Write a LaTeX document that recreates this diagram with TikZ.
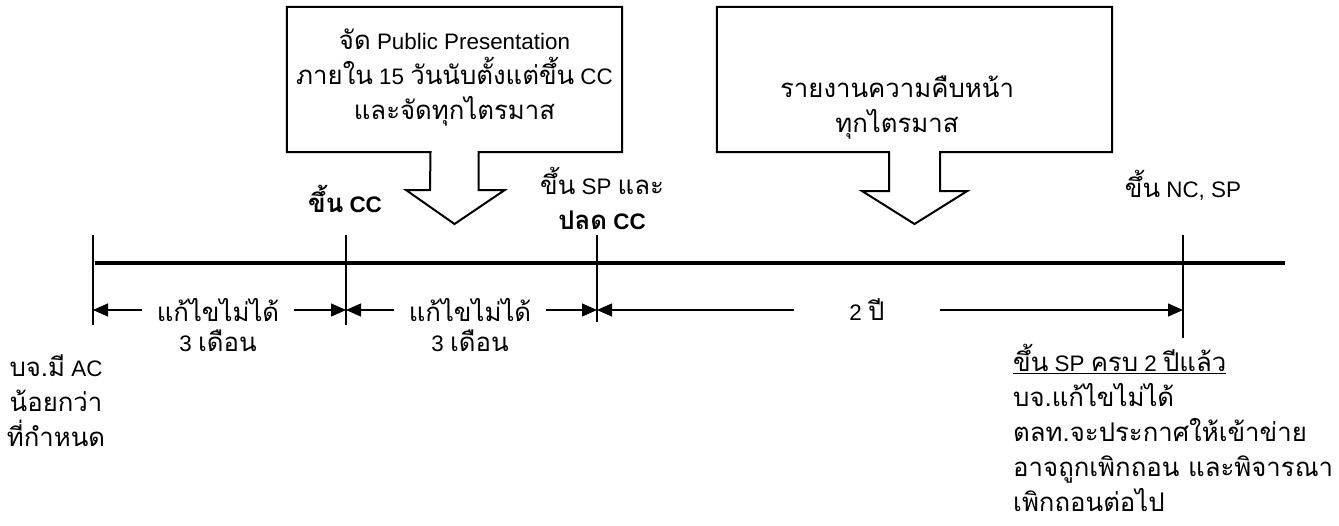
\documentclass[tikz,border=0pt]{standalone}
\usepackage{fontspec}
\setmainfont{Liberation Sans}
\newfontfamily\thaifont[Script=Thai,Scale=1.15]{Loma}
\newcommand\thai[1]{{\thaifont #1}}
\usepackage{tikz}
\usetikzlibrary{positioning, arrows.meta}
\tikzset{callout/.style={draw,line width=2pt,line join=miter},
         tick/.style={line width=1.8pt},
         span/.style={line width=1.3pt,-{Triangle[length=15pt,width=13pt]}},
         lbl/.style={inner sep=0pt,align=center,font=\fontsize{22.4}{35}\selectfont},
         box/.style={minimum width=335pt,minimum height=145pt,inner sep=0pt},
        }

\begin{document}
\begin{tikzpicture}[x=1pt,y=-1pt]
        \useasboundingbox (0,0) rectangle (1339,525);
        % boxes with block arrows
        \node[box](pp)at(454.5,79.5){};
        \node[box,minimum width=395pt](rp)at(914.5,79.5){};
        \draw[callout](pp.north west)--(pp.north east)--(pp.south east)--([xshift=24pt]pp.south)--++(0,38)--++(26,0)
            --(454.5,224)--(406,190)--++(24,0)--([xshift=-24pt]pp.south)--(pp.south west)--cycle;
        \draw[callout](rp.north west)--(rp.north east)--(rp.south east)--([xshift=25.5pt]rp.south)--++(0,39)--++(27,0)
            --(914.5,224)--(862,191)--++(27,0)--([xshift=-25.5pt]rp.south)--(rp.south west)--cycle;
        \node[lbl](pptext)at(454.5,78){\thai{จัด} Public Presentation\\ \thai{ภายใน} 15 \thai{วันนับตั้งแต่ขึ้น} CC\\ \thai{และจัดทุกไตรมาส}};
        \node[lbl](rptext)at(897,108){\thai{รายงานความคืบหน้า}\\ \thai{ทุกไตรมาส}};
        % time line
        \coordinate(start)at(95,263);
        \coordinate(end)at(1285,263);
        \draw[line width=4.5pt](start)--(end);
        \coordinate(t0)at(93,263);
        \coordinate(t1)at(346,263);
        \coordinate(t2)at(597,263);
        \coordinate(t3)at(1183,263);
        \draw[tick](t0)++(0,-28)--++(0,90);
        \draw[tick](t1)++(0,-28)--++(0,90);
        \draw[tick](t2)++(0,-28)--++(0,87);
        \draw[tick](t3)++(0,-28)--++(0,103);
        % labels above the line
        \node[lbl](cc)at(345,199){\bfseries\thai{ขึ้น} CC};
        \node[lbl](sp)at(602,198){\thai{ขึ้น} SP \thai{และ}\\ \bfseries\thai{ปลด} CC};
        \node[lbl](nc)at(1183,185){\thai{ขึ้น} NC, SP};
        % spans
        \node[lbl,inner xsep=15pt](g1)at(218,310){\thai{แก้ไขไม่ได้}};
        \node[lbl,below=31pt of g1.center,anchor=center](m1){3 \thai{เดือน}};
        \node[lbl,inner xsep=15pt](g2)at(470,310){\thai{แก้ไขไม่ได้}};
        \node[lbl,below=31pt of g2.center,anchor=center](m2){3 \thai{เดือน}};
        \node[lbl,inner xsep=55pt](g3)at(867,310){2 \thai{ปี}};
        \draw[span](g1.west)--(g1.west-|t0);
        \draw[span](g1.east)--(g1.east-|t1);
        \draw[span](g2.west)--(g2.west-|t1);
        \draw[span](g2.east)--(g2.east-|t2);
        \draw[span](g3.west)--(g3.west-|t2);
        \draw[span](g3.east)--(g3.east-|t3);
        % notes below
        \node[lbl](ac)at(56,401){\thai{บจ.มี} AC\\ \thai{น้อยกว่า}\\ \thai{ที่กำหนด}};
        \node[lbl,align=left,anchor=north west](nt)at(1013,344){\underline{\thai{ขึ้น} SP \thai{ครบ} 2 \thai{ปีแล้ว}}\\ \thai{บจ.แก้ไขไม่ได้}\\ \thai{ตลท.จะประกาศให้เข้าข่าย}\\ \thai{อาจถูกเพิกถอน และพิจารณา}\\ \thai{เพิกถอนต่อไป}};
    \end{tikzpicture}
\end{document}
